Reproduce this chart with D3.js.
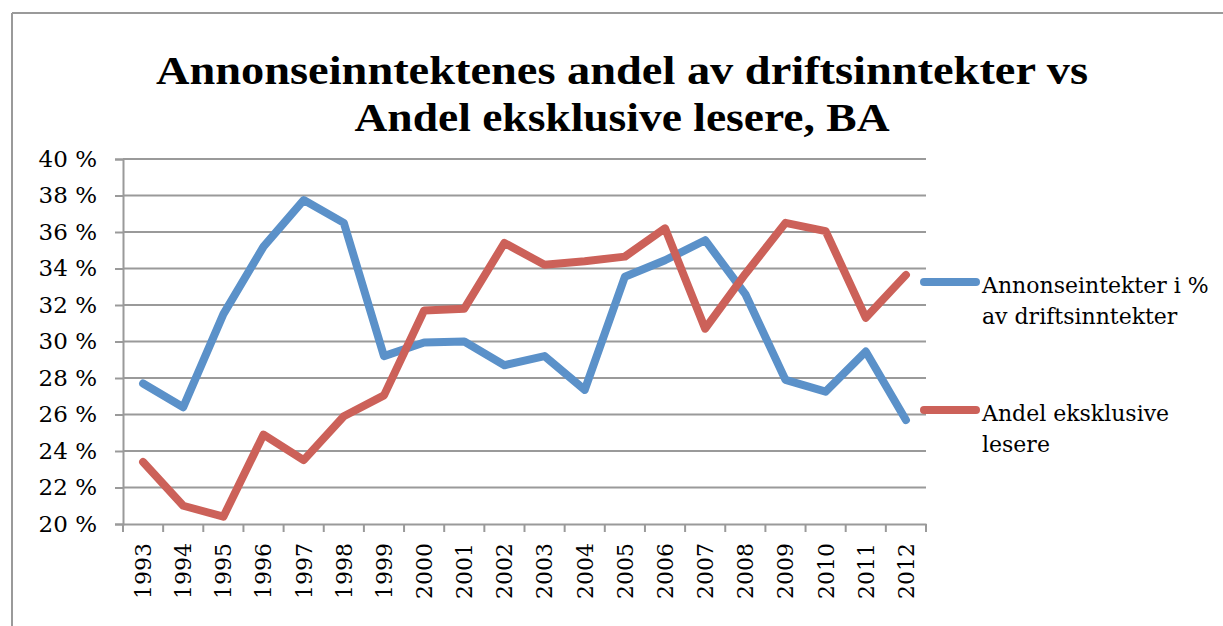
<!DOCTYPE html>
<html><head><meta charset="utf-8">
<script src="https://cdn.jsdelivr.net/npm/d3@7"></script>
<style>html,body{margin:0;padding:0;background:#fff;}svg{display:block;}</style>
</head><body>
<script>
const years = ["1993","1994","1995","1996","1997","1998","1999","2000","2001","2002","2003","2004","2005","2006","2007","2008","2009","2010","2011","2012"];
const annonse = [27.7,26.4,31.5,35.2,37.75,36.5,29.2,29.95,30.0,28.7,29.2,27.35,33.55,34.45,35.55,32.6,27.9,27.25,29.45,25.7];
const eksklusive = [23.4,21.0,20.4,24.9,23.5,25.9,27.05,31.7,31.8,35.4,34.2,34.4,34.65,36.2,30.7,33.7,36.5,36.05,31.3,33.65];
const yTicks = [20,22,24,26,28,30,32,34,36,38,40];
const seriesNames = [["Annonseintekter i %","av driftsinntekter"],["Andel eksklusive","lesere"]];
const titleLines = ["Annonseinntektenes andel av driftsinntekter vs","Andel eksklusive lesere, BA"];
const colors = ["#5b91c9","#cc6159"];

const W=1223,H=626;
const svg=d3.select("body").append("svg").attr("width",W).attr("height",H);
const font="DejaVu Serif";
const tfont="Liberation Serif";

// outer frame
svg.append("line").attr("x1",12).attr("x2",W).attr("y1",13).attr("y2",13).attr("stroke","#9a9a9a").attr("stroke-width",2);
svg.append("line").attr("x1",12).attr("x2",12).attr("y1",13).attr("y2",H).attr("stroke","#9a9a9a").attr("stroke-width",2);

// title
svg.append("text").attr("x",622).attr("y",84).attr("text-anchor","middle").style("font-family",tfont)
  .attr("font-weight","bold").attr("font-size",40).attr("textLength",932).attr("lengthAdjust","spacingAndGlyphs").text(titleLines[0]);
svg.append("text").attr("x",622).attr("y",131).attr("text-anchor","middle").style("font-family",tfont)
  .attr("font-weight","bold").attr("font-size",40).attr("textLength",535).attr("lengthAdjust","spacingAndGlyphs").text(titleLines[1]);

const L=123,R=926,T=159,B=524;
const x=d3.scaleBand().domain(years).range([L,R]);
const y=d3.scaleLinear().domain([20,40]).range([B,T]);

// grid
svg.append("g").selectAll("line").data(yTicks.slice(1)).join("line")
  .attr("x1",L).attr("x2",R).attr("y1",d=>y(d)).attr("y2",d=>y(d)).attr("stroke","#9a9a9a").attr("stroke-width",2);

// y axis
const ya=svg.append("g").attr("transform",`translate(${L},0)`)
  .call(d3.axisLeft(y).tickValues(yTicks).tickSize(8).tickPadding(18).tickFormat(d=>d+" %"));
ya.attr("font-family",null);
ya.select(".domain").attr("stroke","#9a9a9a").attr("stroke-width",2);
ya.selectAll(".tick line").attr("stroke","#9a9a9a").attr("stroke-width",2);
ya.selectAll("text").style("font-family",font).attr("font-size",23).attr("fill","#000");

// x axis
const xa=svg.append("g").attr("transform",`translate(0,${B})`)
  .call(d3.axisBottom(x).tickSize(0).tickSizeOuter(0));
xa.attr("font-family",null);
xa.select(".domain").attr("stroke","#9a9a9a").attr("stroke-width",2);
xa.selectAll(".tick text").style("font-family",font).attr("font-size",22).attr("fill","#000")
  .attr("transform","rotate(-90)").attr("text-anchor","end").attr("dy","0.36em").attr("x",-19).attr("y",0);
const bounds=d3.range(years.length+1).map(i=>L+i*x.step());
xa.append("g").selectAll("line").data(bounds).join("line")
  .attr("x1",d=>d).attr("x2",d=>d).attr("y1",0).attr("y2",8).attr("stroke","#9a9a9a").attr("stroke-width",2);

// lines
const line=d3.line().x((d,i)=>x(years[i])+x.bandwidth()/2).y(d=>y(d));
[annonse,eksklusive].forEach((s,k)=>{
  svg.append("path").datum(s).attr("d",line).attr("fill","none").attr("stroke",colors[k])
    .attr("stroke-width",8).attr("stroke-linejoin","round").attr("stroke-linecap","round");
});

// legend
const legY=[282,410];
seriesNames.forEach((nm,k)=>{
  svg.append("line").attr("x1",924).attr("x2",976).attr("y1",legY[k]).attr("y2",legY[k])
    .attr("stroke",colors[k]).attr("stroke-width",8).attr("stroke-linecap","round");
  nm.forEach((t,j)=>{
    svg.append("text").attr("x",982).attr("y",legY[k]+11+j*31).style("font-family",font).attr("font-size",22)
      .attr("fill","#000").text(t);
  });
});
</script>
</body></html>
